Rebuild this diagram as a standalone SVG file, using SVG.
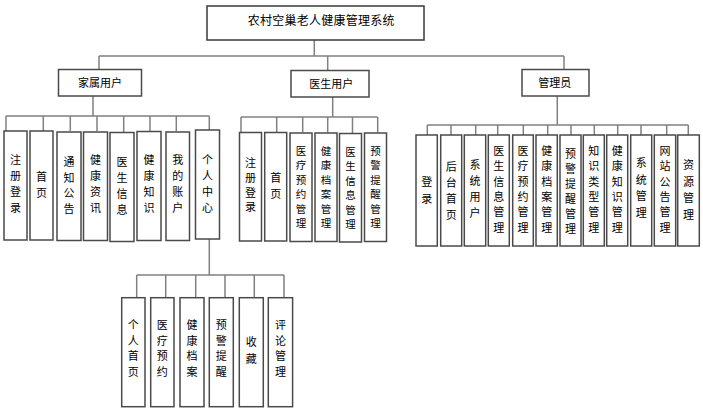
<svg xmlns="http://www.w3.org/2000/svg" width="703" height="411" viewBox="0 0 703 411">
<style>
.bg{fill:#ffffff}
.box{fill:#ffffff;stroke:#4a4a4a;stroke-width:1.5}
.root{fill:#ffffff;stroke:#3a3a3a;stroke-width:1.5}
.ln{fill:none;stroke:#808080;stroke-width:1.5}
text{font-family:"Noto Sans CJK SC","Liberation Sans",sans-serif;font-size:11px;fill:#000000;text-anchor:middle}
.title{font-size:12px;letter-spacing:0.25px}
.sm{font-size:10.5px}
</style>
<rect class="bg" x="0" y="0" width="703" height="411"/>
<g id="connectors">
<path class="ln" d="M314.3,40 V56 M99,56 H564 M99,56 V69 M327.7,56 V70 M564,56 V69"/>
<path class="ln" d="M93,96 V116 M6,116 H209.3 M6,116 V131 M43.3,116 V131 M70.3,116 V131 M97,116 V131 M123.7,116 V132 M150,116 V131 M176.3,116 V131 M209.3,116 V130"/>
<path class="ln" d="M332.7,97 V117 M241,117 H377.7 M241,117 V132.5 M276.7,117 V132.5 M302.7,117 V132.5 M327.7,117 V132.5 M352.5,117 V133 M377.7,117 V132.5"/>
<path class="ln" d="M557.3,96 V125 M427.3,125 H688.3 M427.3,125 V135 M451,125 V135 M475.7,125 V135 M497.7,125 V135 M523.3,125 V135 M547.7,125 V135 M571,125 V135 M594.3,125 V135 M617.7,125 V135 M641,125 V135 M666.7,125 V135 M688.3,125 V135"/>
<path class="ln" d="M209.3,239 V275 M136.7,275 H284 M136.7,275 V297.7 M165.7,275 V297.7 M195.7,275 V297.7 M225,275 V297.7 M254.3,275 V297.7 M284,275 V297.7"/>
</g>
<g id="root"><rect class="root" x="207" y="6" width="217" height="34"/><text class="title" x="321.3" y="25">农村空巢老人健康管理系统</text></g>
<g id="jiashu"><rect class="box" x="58.5" y="69.5" width="83" height="26.5"/><text x="100" y="86.5">家属用户</text></g>
<g id="yisheng"><rect class="box" x="291" y="70.5" width="78" height="26.5"/><text x="331.3" y="88">医生用户</text></g>
<g id="guanli"><rect class="box" x="522" y="69.5" width="67" height="26.5"/><text x="554.7" y="86.5">管理员</text></g>

<!-- 家属用户 children -->
<g id="j1"><rect class="box" x="4" y="131" width="23" height="109"/><text x="15.5" y="164"><tspan x="15.5">注</tspan><tspan x="15.5" dy="16">册</tspan><tspan x="15.5" dy="16">登</tspan><tspan x="15.5" dy="16">录</tspan></text></g>
<g id="j2"><rect class="box" x="30" y="131" width="23" height="109"/><text x="41.5" y="181"><tspan x="41.5">首</tspan><tspan x="41.5" dy="16">页</tspan></text></g>
<g id="j3"><rect class="box" x="57" y="132" width="24" height="108.5"/><text x="69" y="166"><tspan x="69">通</tspan><tspan x="69" dy="15.5">知</tspan><tspan x="69" dy="15.5">公</tspan><tspan x="69" dy="15.5">告</tspan></text></g>
<g id="j4"><rect class="box" x="83.5" y="132" width="24" height="108.5"/><text x="95.5" y="164"><tspan x="95.5">健</tspan><tspan x="95.5" dy="16">康</tspan><tspan x="95.5" dy="16">资</tspan><tspan x="95.5" dy="16">讯</tspan></text></g>
<g id="j5"><rect class="box" x="110" y="132.5" width="24" height="109"/><text x="122" y="166"><tspan x="122">医</tspan><tspan x="122" dy="16">生</tspan><tspan x="122" dy="16">信</tspan><tspan x="122" dy="16">息</tspan></text></g>
<g id="j6"><rect class="box" x="137" y="131.5" width="24" height="109"/><text x="149" y="164"><tspan x="149">健</tspan><tspan x="149" dy="16">康</tspan><tspan x="149" dy="16">知</tspan><tspan x="149" dy="16">识</tspan></text></g>
<g id="j7"><rect class="box" x="166" y="132" width="23.5" height="108.5"/><text x="177.7" y="164"><tspan x="177.7">我</tspan><tspan x="177.7" dy="16">的</tspan><tspan x="177.7" dy="16">账</tspan><tspan x="177.7" dy="16">户</tspan></text></g>
<g id="j8"><rect class="box" x="195.5" y="130" width="24" height="109"/><text x="207.5" y="164"><tspan x="207.5">个</tspan><tspan x="207.5" dy="16">人</tspan><tspan x="207.5" dy="16">中</tspan><tspan x="207.5" dy="16">心</tspan></text></g>

<!-- 医生用户 children -->
<g id="y1"><rect class="box" x="239.5" y="132.5" width="22" height="108.5"/><text x="250.5" y="167"><tspan x="250.5">注</tspan><tspan x="250.5" dy="14.8">册</tspan><tspan x="250.5" dy="14.8">登</tspan><tspan x="250.5" dy="14.8">录</tspan></text></g>
<g id="y2"><rect class="box" x="264.7" y="132.5" width="22" height="108.5"/><text x="275.7" y="182.3"><tspan x="275.7">首</tspan><tspan x="275.7" dy="15.5">页</tspan></text></g>
<g id="y3"><rect class="box" x="290" y="133" width="22" height="108.5"/><text class="sm" x="301" y="154.8"><tspan x="301">医</tspan><tspan x="301" dy="14.5">疗</tspan><tspan x="301" dy="14.5">预</tspan><tspan x="301" dy="14.5">约</tspan><tspan x="301" dy="14.5">管</tspan><tspan x="301" dy="14.5">理</tspan></text></g>
<g id="y4"><rect class="box" x="315" y="133" width="22" height="108.5"/><text class="sm" x="326" y="154.8"><tspan x="326">健</tspan><tspan x="326" dy="14.5">康</tspan><tspan x="326" dy="14.5">档</tspan><tspan x="326" dy="14.5">案</tspan><tspan x="326" dy="14.5">管</tspan><tspan x="326" dy="14.5">理</tspan></text></g>
<g id="y5"><rect class="box" x="339.5" y="133.5" width="22" height="108.5"/><text class="sm" x="350.5" y="155.5"><tspan x="350.5">医</tspan><tspan x="350.5" dy="14.5">生</tspan><tspan x="350.5" dy="14.5">信</tspan><tspan x="350.5" dy="14.5">息</tspan><tspan x="350.5" dy="14.5">管</tspan><tspan x="350.5" dy="14.5">理</tspan></text></g>
<g id="y6"><rect class="box" x="364.5" y="133" width="22" height="108.5"/><text class="sm" x="375.5" y="154.8"><tspan x="375.5">预</tspan><tspan x="375.5" dy="14.5">警</tspan><tspan x="375.5" dy="14.5">提</tspan><tspan x="375.5" dy="14.5">醒</tspan><tspan x="375.5" dy="14.5">管</tspan><tspan x="375.5" dy="14.5">理</tspan></text></g>

<!-- 管理员 children -->
<g id="g1"><rect class="box" x="416" y="135" width="21.3" height="111"/><text x="426.7" y="186"><tspan x="426.7">登</tspan><tspan x="426.7" dy="16.5">录</tspan></text></g>
<g id="g2"><rect class="box" x="440.7" y="135" width="21" height="111"/><text x="451.2" y="171"><tspan x="451.2">后</tspan><tspan x="451.2" dy="16">台</tspan><tspan x="451.2" dy="16">首</tspan><tspan x="451.2" dy="16">页</tspan></text></g>
<g id="g3"><rect class="box" x="464.3" y="135" width="21.4" height="111"/><text x="475" y="169"><tspan x="475">系</tspan><tspan x="475" dy="16">统</tspan><tspan x="475" dy="16">用</tspan><tspan x="475" dy="16">户</tspan></text></g>
<g id="g4"><rect class="box" x="488.3" y="135" width="21" height="111"/><text x="498.8" y="155"><tspan x="498.8">医</tspan><tspan x="498.8" dy="15.3">生</tspan><tspan x="498.8" dy="15.3">信</tspan><tspan x="498.8" dy="15.3">息</tspan><tspan x="498.8" dy="15.3">管</tspan><tspan x="498.8" dy="15.3">理</tspan></text></g>
<g id="g5"><rect class="box" x="512.7" y="135" width="20.6" height="111"/><text x="523" y="155"><tspan x="523">医</tspan><tspan x="523" dy="15.3">疗</tspan><tspan x="523" dy="15.3">预</tspan><tspan x="523" dy="15.3">约</tspan><tspan x="523" dy="15.3">管</tspan><tspan x="523" dy="15.3">理</tspan></text></g>
<g id="g6"><rect class="box" x="536" y="135" width="21.3" height="111"/><text x="546.7" y="155"><tspan x="546.7">健</tspan><tspan x="546.7" dy="15.3">康</tspan><tspan x="546.7" dy="15.3">档</tspan><tspan x="546.7" dy="15.3">案</tspan><tspan x="546.7" dy="15.3">管</tspan><tspan x="546.7" dy="15.3">理</tspan></text></g>
<g id="g7"><rect class="box" x="560" y="135" width="21" height="111"/><text x="570.5" y="158"><tspan x="570.5">预</tspan><tspan x="570.5" dy="15">警</tspan><tspan x="570.5" dy="15">提</tspan><tspan x="570.5" dy="15">醒</tspan><tspan x="570.5" dy="15">管</tspan><tspan x="570.5" dy="15">理</tspan></text></g>
<g id="g8"><rect class="box" x="583.3" y="135" width="21" height="111"/><text x="593.8" y="155"><tspan x="593.8">知</tspan><tspan x="593.8" dy="15.3">识</tspan><tspan x="593.8" dy="15.3">类</tspan><tspan x="593.8" dy="15.3">型</tspan><tspan x="593.8" dy="15.3">管</tspan><tspan x="593.8" dy="15.3">理</tspan></text></g>
<g id="g9"><rect class="box" x="606.7" y="135" width="21" height="111"/><text x="617.2" y="155"><tspan x="617.2">健</tspan><tspan x="617.2" dy="15.3">康</tspan><tspan x="617.2" dy="15.3">知</tspan><tspan x="617.2" dy="15.3">识</tspan><tspan x="617.2" dy="15.3">管</tspan><tspan x="617.2" dy="15.3">理</tspan></text></g>
<g id="g10"><rect class="box" x="630.7" y="135" width="21" height="111"/><text x="641.2" y="167"><tspan x="641.2">系</tspan><tspan x="641.2" dy="16.5">统</tspan><tspan x="641.2" dy="16.5">管</tspan><tspan x="641.2" dy="16.5">理</tspan></text></g>
<g id="g11"><rect class="box" x="654.3" y="135" width="21.4" height="111"/><text x="665" y="155"><tspan x="665">网</tspan><tspan x="665" dy="15.3">站</tspan><tspan x="665" dy="15.3">公</tspan><tspan x="665" dy="15.3">告</tspan><tspan x="665" dy="15.3">管</tspan><tspan x="665" dy="15.3">理</tspan></text></g>
<g id="g12"><rect class="box" x="677.7" y="135" width="21.6" height="111"/><text x="688.5" y="169"><tspan x="688.5">资</tspan><tspan x="688.5" dy="16.5">源</tspan><tspan x="688.5" dy="16.5">管</tspan><tspan x="688.5" dy="16.5">理</tspan></text></g>

<!-- 个人中心 children -->
<g id="p1"><rect class="box" x="121.7" y="297.7" width="23.3" height="109"/><text x="133.3" y="329"><tspan x="133.3">个</tspan><tspan x="133.3" dy="15.5">人</tspan><tspan x="133.3" dy="15.5">首</tspan><tspan x="133.3" dy="15.5">页</tspan></text></g>
<g id="p2"><rect class="box" x="150.7" y="297.7" width="23.3" height="109"/><text x="162.3" y="329"><tspan x="162.3">医</tspan><tspan x="162.3" dy="15.5">疗</tspan><tspan x="162.3" dy="15.5">预</tspan><tspan x="162.3" dy="15.5">约</tspan></text></g>
<g id="p3"><rect class="box" x="180" y="297.7" width="24" height="109"/><text x="192" y="329"><tspan x="192">健</tspan><tspan x="192" dy="15.5">康</tspan><tspan x="192" dy="15.5">档</tspan><tspan x="192" dy="15.5">案</tspan></text></g>
<g id="p4"><rect class="box" x="209.3" y="297.7" width="24" height="109"/><text x="221.3" y="329"><tspan x="221.3">预</tspan><tspan x="221.3" dy="15.5">警</tspan><tspan x="221.3" dy="15.5">提</tspan><tspan x="221.3" dy="15.5">醒</tspan></text></g>
<g id="p5"><rect class="box" x="239.3" y="297.7" width="24" height="109"/><text x="251.3" y="346"><tspan x="251.3">收</tspan><tspan x="251.3" dy="16.5">藏</tspan></text></g>
<g id="p6"><rect class="box" x="268.3" y="297.7" width="24.3" height="109"/><text x="280.5" y="329"><tspan x="280.5">评</tspan><tspan x="280.5" dy="15.5">论</tspan><tspan x="280.5" dy="15.5">管</tspan><tspan x="280.5" dy="15.5">理</tspan></text></g>
</svg>
